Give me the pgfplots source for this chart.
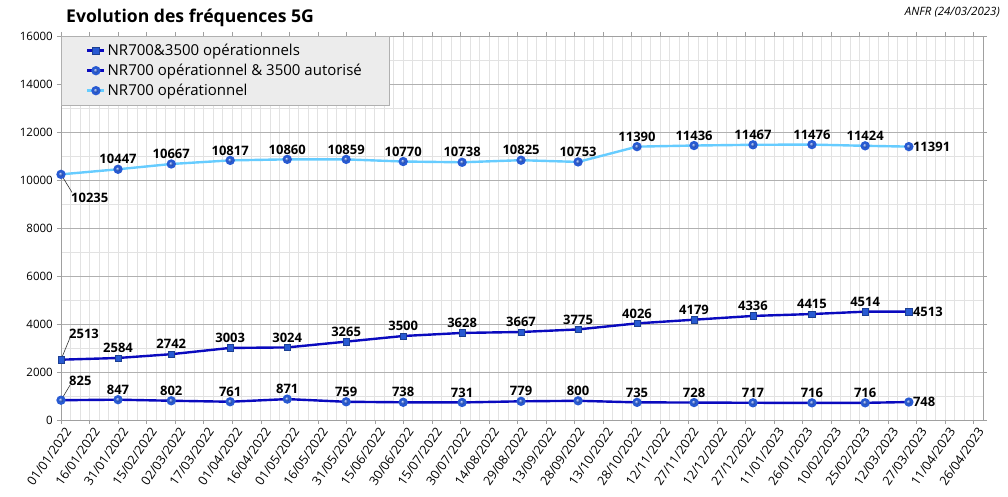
\documentclass[border=0pt]{standalone}
\usepackage{fontspec}
\setmainfont{Open Sans}
\usepackage{pgfplots}
\pgfplotsset{compat=1.18}
\usetikzlibrary{shadings}
\definecolor{darkline}{RGB}{10,10,190}
\definecolor{lightline}{RGB}{102,204,255}
\definecolor{markblue}{RGB}{40,90,210}
\definecolor{majgrid}{RGB}{176,176,176}
\definecolor{mingrid}{RGB}{226,226,226}
\definecolor{axgray}{RGB}{160,160,160}
\pgfplotsset{
  lbl/.style={draw=none, mark=none, forget plot, nodes near coords,
    every node near coord/.append style={font=\bfseries\fontsize{13}{15}\selectfont, black, inner sep=2pt}},
}
\begin{document}
\begin{tikzpicture}
\path[use as bounding box] (0,0) rectangle (1008pt,496pt);
\node[anchor=west,font=\bfseries\fontsize{17.6}{20}\selectfont, inner sep=0pt] at (66pt,478pt) {Evolution des fréquences 5G};
\node[anchor=east,font=\itshape\fontsize{11.5}{13}\selectfont, inner sep=0pt] at (1000pt,484pt) {ANFR (24/03/2023)};
\begin{axis}[
  at={(61pt,76pt)}, anchor=south west,
  scale only axis, width=922pt, height=384pt,
  xmin=0, xmax=485, ymin=0, ymax=16000,
  clip=false,
  axis line style={axgray},
  xtick={0,15,...,480},
  xticklabels={01/01/2022,16/01/2022,31/01/2022,15/02/2022,02/03/2022,17/03/2022,01/04/2022,16/04/2022,01/05/2022,16/05/2022,31/05/2022,15/06/2022,30/06/2022,15/07/2022,30/07/2022,14/08/2022,29/08/2022,13/09/2022,28/09/2022,13/10/2022,28/10/2022,12/11/2022,27/11/2022,12/12/2022,27/12/2022,11/01/2023,26/01/2023,10/02/2023,25/02/2023,12/03/2023,27/03/2023,11/04/2023,26/04/2023},
  minor x tick num=2,
  ytick={0,2000,...,16000},
  scaled y ticks=false,
  minor y tick num=1,
  tick align=outside,
  major tick length=4pt, minor tick length=0pt,
  tick style={axgray},
  xmajorgrids, xminorgrids, ymajorgrids, yminorgrids,
  x grid style={mingrid},
  minor x grid style={mingrid},
  major y grid style={majgrid},
  minor y grid style={mingrid},
  /pgf/number format/assume math mode=true,
  /pgf/number format/1000 sep={},
  ticklabel style={font=\fontsize{11.5}{13}\selectfont},
  yticklabel style={inner sep=2pt, xshift=-2pt},
  xticklabel style={rotate=55, anchor=east, inner sep=1pt, font=\fontsize{12.6}{14}\selectfont, yshift=-9pt, xshift=1pt},
  legend style={at={(0,1)}, anchor=north west, fill=gray!15, draw=majgrid,
    font=\fontsize{15}{18}\selectfont, inner xsep=25pt, inner ysep=6pt,
    row sep=3pt},
  legend cell align=left,
]
\addplot[darkline, line width=2.4pt, mark=square*, mark size=3.2pt,
  mark options={fill=markblue, draw=markblue!70!black, line width=0.5pt}]
  coordinates {(0,2513) (30,2584) (58,2742) (89,3003) (119,3024) (150,3265) (180,3500) (211,3628) (242,3667) (272,3775) (303,4026) (333,4179) (364,4336) (395,4415) (423,4514) (446,4513)};
\addlegendentry{NR700\&3500 opérationnels}
\addplot[darkline, line width=2.4pt, mark=ball, mark size=3.4pt, mark options={color=markblue, ball color=markblue}]
  coordinates {(0,825) (30,847) (58,802) (89,761) (119,871) (150,759) (180,738) (211,731) (242,779) (272,800) (303,735) (333,728) (364,717) (395,716) (423,716) (446,748)};
\addlegendentry{NR700 opérationnel \& 3500 autorisé}
\addplot[lightline, line width=2.4pt, mark=ball, mark size=3.4pt, mark options={color=markblue, ball color=markblue}]
  coordinates {(0,10235) (30,10447) (58,10667) (89,10817) (119,10860) (150,10859) (180,10770) (211,10738) (242,10825) (272,10753) (303,11390) (333,11436) (364,11467) (395,11476) (423,11424) (446,11391)};
\addlegendentry{NR700 opérationnel}
% labels above points
\addplot[lbl, every node near coord/.append style={anchor=south, yshift=3pt}]
  coordinates {(30,2584) (58,2742) (89,3003) (119,3024) (150,3265) (180,3500) (211,3628) (242,3667) (272,3775) (303,4026) (333,4179) (364,4336) (395,4415) (423,4514)};
\addplot[lbl, every node near coord/.append style={anchor=south, yshift=3pt}]
  coordinates {(30,847) (58,802) (89,761) (119,871) (150,759) (180,738) (211,731) (242,779) (272,800) (303,735) (333,728) (364,717) (395,716) (423,716)};
\addplot[lbl, every node near coord/.append style={anchor=south, yshift=3pt}]
  coordinates {(30,10447) (58,10667) (89,10817) (119,10860) (150,10859) (180,10770) (211,10738) (242,10825) (272,10753) (303,11390) (333,11436) (364,11467) (395,11476) (423,11424)};
% last labels, to the right
\addplot[lbl, every node near coord/.append style={anchor=west, xshift=2pt}]
  coordinates {(446,4513) (446,748) (446,11391)};
% first labels
\addplot[lbl, every node near coord/.append style={anchor=south west, xshift=6pt, yshift=19pt}]
  coordinates {(0,2513)};
\addplot[lbl, every node near coord/.append style={anchor=south west, xshift=6pt, yshift=12pt}]
  coordinates {(0,825)};
\addplot[lbl, every node near coord/.append style={anchor=north west, xshift=8pt, yshift=-17pt}]
  coordinates {(0,10235)};
\draw[black!80, line width=0.6pt] (axis cs:0,10235) -- ++(11pt,-18pt);
\draw[black!80, line width=0.6pt] (axis cs:0,2513) -- ++(9pt,22pt);
\draw[black!80, line width=0.6pt] (axis cs:0,825) -- ++(9pt,15pt);
\end{axis}
\end{tikzpicture}
\end{document}
